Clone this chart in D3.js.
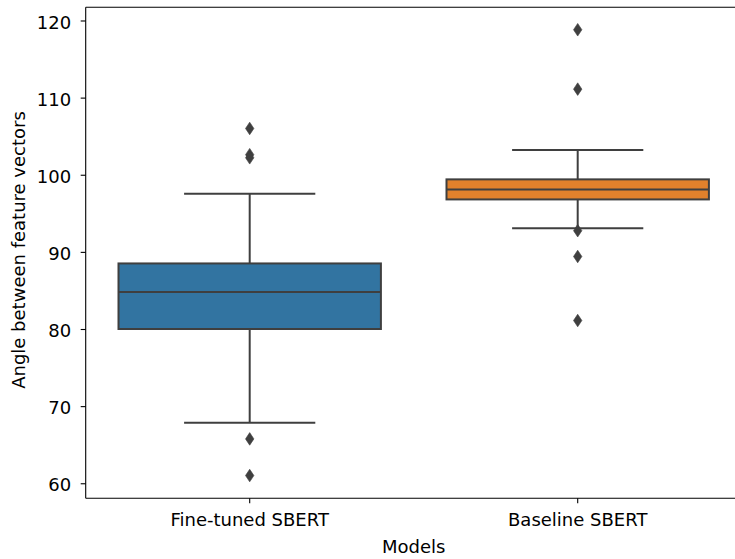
<!DOCTYPE html>
<html>
<head>
<meta charset="utf-8">
<script src="https://cdn.jsdelivr.net/npm/d3@7"></script>
<style>
  html, body { margin: 0; padding: 0; background: #fff; }
  svg { display: block; font-family: "DejaVu Sans", sans-serif; }
</style>
</head>
<body>
<svg id="chart" width="735" height="559"></svg>
<script>
// Box-plot summaries of the angle (degrees) between feature vectors, per model
const categories = ["Fine-tuned SBERT", "Baseline SBERT"];
const q1 = [80.0, 96.8];
const medians = [84.8, 98.1];
const q3 = [88.5, 99.4];
const whiskerLow = [67.85, 93.05];
const whiskerHigh = [97.55, 103.2];
const outliers = [
  [106.0, 102.6, 102.2, 65.75, 61.0],
  [118.8, 111.1, 92.75, 89.4, 81.1]
];
const colors = ["#3274a1", "#e1812c"];
const yTicks = [60, 70, 80, 90, 100, 110, 120];

const svg = d3.select("#chart");
const plotLeft = 85.7, plotRight = 741.7, plotTop = 7.3, plotBottom = 498.3;
const ink = "#3f3f3f";
const fontSize = 18;

const x = d3.scaleBand().domain(categories).range([plotLeft, plotRight]).padding(0);
const y = d3.scaleLinear().domain([58.05, 121.71]).range([plotBottom, plotTop]);

const boxW = x.bandwidth() * 0.8;
const capW = boxW / 2;
const cx = c => x(c) + x.bandwidth() / 2;

const rows = categories.map((c, i) => ({
  cat: c, q1: q1[i], med: medians[i], q3: q3[i],
  lo: whiskerLow[i], hi: whiskerHigh[i], out: outliers[i], color: colors[i]
}));

const g = svg.append("g");

rows.forEach(r => {
  const xc = cx(r.cat);
  // whiskers
  g.append("line").attr("x1", xc).attr("x2", xc).attr("y1", y(r.q3)).attr("y2", y(r.hi))
    .attr("stroke", ink).attr("stroke-width", 2);
  g.append("line").attr("x1", xc).attr("x2", xc).attr("y1", y(r.q1)).attr("y2", y(r.lo))
    .attr("stroke", ink).attr("stroke-width", 2);
  // caps
  [r.lo, r.hi].forEach(v => {
    g.append("line").attr("x1", xc - capW / 2).attr("x2", xc + capW / 2)
      .attr("y1", y(v)).attr("y2", y(v)).attr("stroke", ink).attr("stroke-width", 2);
  });
  // box
  g.append("rect").attr("x", xc - boxW / 2).attr("width", boxW)
    .attr("y", y(r.q3)).attr("height", y(r.q1) - y(r.q3))
    .attr("fill", r.color).attr("stroke", ink).attr("stroke-width", 2);
  // median
  g.append("line").attr("x1", xc - boxW / 2).attr("x2", xc + boxW / 2)
    .attr("y1", y(r.med)).attr("y2", y(r.med)).attr("stroke", ink).attr("stroke-width", 2);
  // outliers as thin diamonds
  r.out.forEach(v => {
    const yy = y(v);
    g.append("path")
      .attr("d", `M${xc},${yy - 6.3}L${xc + 4.2},${yy}L${xc},${yy + 6.3}L${xc - 4.2},${yy}Z`)
      .attr("fill", ink).attr("stroke", ink).attr("stroke-width", 0.6);
  });
});

// spines
const spine = (x1, y1, x2, y2) => svg.append("line")
  .attr("x1", x1).attr("y1", y1).attr("x2", x2).attr("y2", y2)
  .attr("stroke", "#000").attr("stroke-width", 1.1);
spine(plotLeft, plotTop, plotLeft, plotBottom);
spine(plotLeft, plotBottom, plotRight, plotBottom);
spine(plotLeft, plotTop, plotRight, plotTop);
spine(plotRight, plotTop, plotRight, plotBottom);

// y axis
const yAxis = d3.axisLeft(y).tickValues(yTicks).tickSize(5).tickPadding(9.5).tickFormat(d3.format("d"));
const ya = svg.append("g").attr("transform", `translate(${plotLeft},0)`).call(yAxis);
ya.select(".domain").remove();
ya.selectAll("line").attr("stroke", "#000").attr("stroke-width", 1.1);
ya.selectAll("text").attr("font-size", fontSize).attr("fill", "#000")
  .attr("font-family", "DejaVu Sans").attr("dy", "0.42em");

// x axis
const xAxis = d3.axisBottom(x).tickSize(5).tickPadding(10.4);
const xa = svg.append("g").attr("transform", `translate(0,${plotBottom})`).call(xAxis);
xa.select(".domain").remove();
xa.selectAll("line").attr("stroke", "#000").attr("stroke-width", 1.1);
xa.selectAll("text").attr("font-size", fontSize).attr("fill", "#000")
  .attr("font-family", "DejaVu Sans").attr("dy", "0.71em");

// axis titles
svg.append("text").attr("x", (plotLeft + plotRight) / 2).attr("y", 552.7)
  .attr("text-anchor", "middle").attr("font-size", fontSize).attr("fill", "#000")
  .text("Models");
svg.append("text").attr("transform", `translate(25,250) rotate(-90)`)
  .attr("text-anchor", "middle").attr("font-size", fontSize).attr("fill", "#000")
  .text("Angle between feature vectors");
</script>
</body>
</html>
